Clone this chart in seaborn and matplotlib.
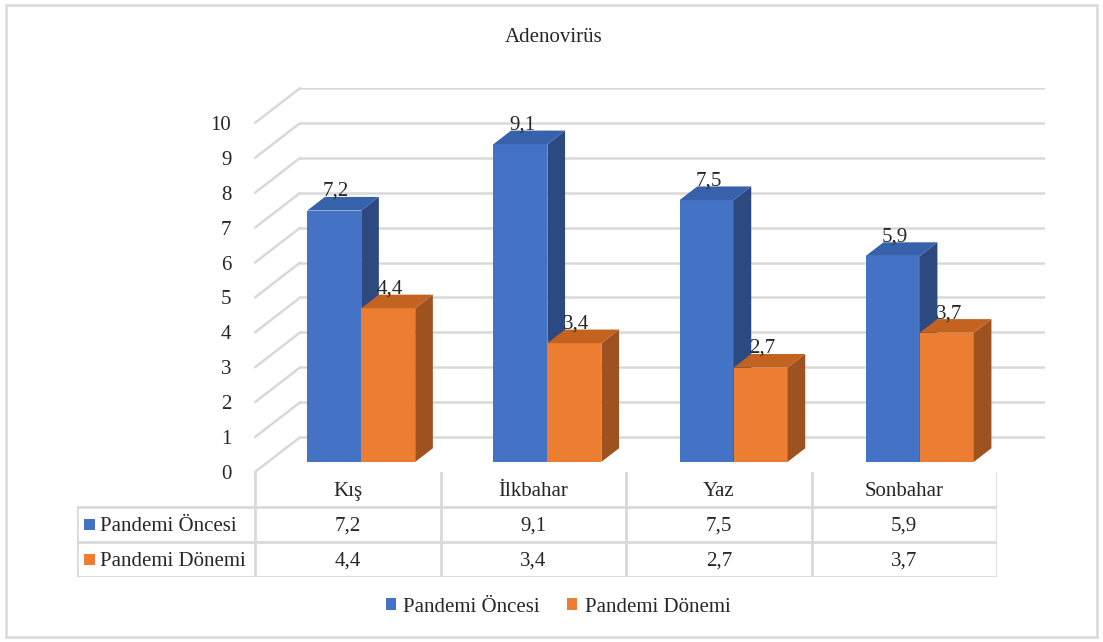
import matplotlib
matplotlib.use("Agg")
import matplotlib.pyplot as plt
from matplotlib.patches import Polygon, Patch, Rectangle
import pandas as pd
import seaborn as sns

# data
seasons = ['Kış', 'İlkbahar', 'Yaz', 'Sonbahar']
series = ['Pandemi Öncesi', 'Pandemi Dönemi']
oncesi = [7.2, 9.1, 7.5, 5.9]
donemi = [4.4, 3.4, 2.7, 3.7]
yticks = list(range(0, 11))
title = 'Adenovirüs'

front_cols = ['#4472C4', '#ED7D31']
top_cols = ['#3762AB', '#C3631F']
side_cols = ['#2C4A80', '#9D521F']
grid_col = '#D9D9D9'

# fake 3d depth (data units)
DX, DY = 0.243, 1.0   # back wall offset
F = 0.29              # bar position inside the depth
D = 0.39              # bar depth

sns.set_style('white')
plt.rcParams['font.family'] = 'serif'
plt.rcParams['font.serif'] = ['Liberation Serif', 'Times New Roman', 'DejaVu Serif']
FAM = ['Liberation Serif', 'DejaVu Serif']
FS = 15

df = pd.DataFrame({
    'season': seasons * 2,
    'series': [series[0]] * 4 + [series[1]] * 4,
    'value': oncesi + donemi,
})

W, H = 1103, 642
fig = plt.figure(figsize=(W / 100, H / 100), dpi=100)
ax = fig.add_axes([255 / W, (H - 472) / H, 790 / W, 384 / H])

sns.barplot(data=df, x='season', y='value', hue='series', hue_order=series,
            palette=front_cols, width=0.58, saturation=1, ax=ax, legend=False,
            errorbar=None, linewidth=0, edgecolor='none', zorder=3)

ax.set_xlim(-0.5, 3.5 + DX)
ax.set_ylim(0, 10 + DY)
ax.set_xlabel('')
ax.set_ylabel('')
ax.set_xticks([])
ax.set_yticks(yticks)
ax.set_yticklabels([str(t) for t in yticks], fontsize=FS, family=FAM)
ax.tick_params(axis='y', length=0, pad=17)
for s in ax.spines.values():
    s.set_visible(False)

# back wall grid + side diagonals
for t in yticks:
    ax.plot([-0.5 + DX, 3.5 + DX], [t + DY, t + DY], color=grid_col, lw=1.8, zorder=1)
    ax.plot([-0.5, -0.5 + DX], [t, t + DY], color=grid_col, lw=1.8, zorder=1, clip_on=False)

# shift bars into depth and add top/side faces
for k, cont in enumerate(ax.containers):
    for bar in cont:
        bar.set_x(bar.get_x() + F * DX)
        bar.set_y(F * DY)
        bar.set_zorder(3 + k)
        x0 = bar.get_x()
        x1 = x0 + bar.get_width()
        y0 = bar.get_y()
        y1 = y0 + bar.get_height()
        side = Polygon([(x1, y0), (x1 + D * DX, y0 + D * DY),
                        (x1 + D * DX, y1 + D * DY), (x1, y1)],
                       closed=True, fc=side_cols[k], ec='none', zorder=3 + k)
        top = Polygon([(x0, y1), (x1, y1), (x1 + D * DX, y1 + D * DY),
                       (x0 + D * DX, y1 + D * DY)],
                      closed=True, fc=top_cols[k], ec='none', zorder=3 + k)
        ax.add_patch(side)
        ax.add_patch(top)
        ax.text((x0 + x1) / 2 + 0.01, y1 + D * DY + 0.03,
                f'{bar.get_height():.1f}'.replace('.', ','),
                ha='center', va='baseline', fontsize=FS, family=FAM, zorder=10)

# title
fig.text(554 / W, 1 - 37 / H, title, ha='center', va='center', fontsize=FS, family=FAM)

# data table
x_left = -0.5 - 178 / 185.5
tax = fig.add_axes([77 / W, (H - 577) / H, 920 / W, 105 / H])
tax.set_xlim(x_left, 3.5)
tax.set_ylim(0, 3)
tax.axis('off')
for yy in [0, 1, 2]:
    tax.plot([x_left, 3.5], [yy, yy], color=grid_col, lw=2)
for xx in [-0.5, 0.5, 1.5, 2.5, 3.5]:
    tax.plot([xx, xx], [0, 3], color=grid_col, lw=2)
tax.plot([x_left, x_left], [0, 2], color=grid_col, lw=2)
for i, s in enumerate(seasons):
    tax.text(i, 2.45, s, ha='center', va='center', fontsize=FS, family=FAM)
    tax.text(i, 1.45, f'{oncesi[i]:.1f}'.replace('.', ','), ha='center', va='center',
             fontsize=FS, family=FAM)
    tax.text(i, 0.45, f'{donemi[i]:.1f}'.replace('.', ','), ha='center', va='center',
             fontsize=FS, family=FAM)
px = 1 / 185.5
for r, (name, col) in enumerate(zip(series, front_cols)):
    yc = 1.5 - r
    tax.add_patch(Rectangle((x_left + 7 * px, yc - 0.16), 11 * px, 0.32, fc=col, ec='none'))
    tax.text(x_left + 23 * px, yc - 0.05, name, ha='left', va='center', fontsize=FS, family=FAM)

# legend
handles = [Patch(fc=c, ec='none') for c in front_cols]
fig.legend(handles, series, loc='center', bbox_to_anchor=(558 / W, 1 - 607 / H),
           ncol=2, frameon=False, prop={'family': FAM, 'size': FS},
           handlelength=0.5, handleheight=0.5, handletextpad=0.35, columnspacing=1.3)

# outer frame
fig.patches.append(Rectangle((6 / W, 5 / H), 1091 / W, 632 / H, transform=fig.transFigure,
                             fill=False, ec=grid_col, lw=1.8))

fig.savefig('out.png', dpi=100)
